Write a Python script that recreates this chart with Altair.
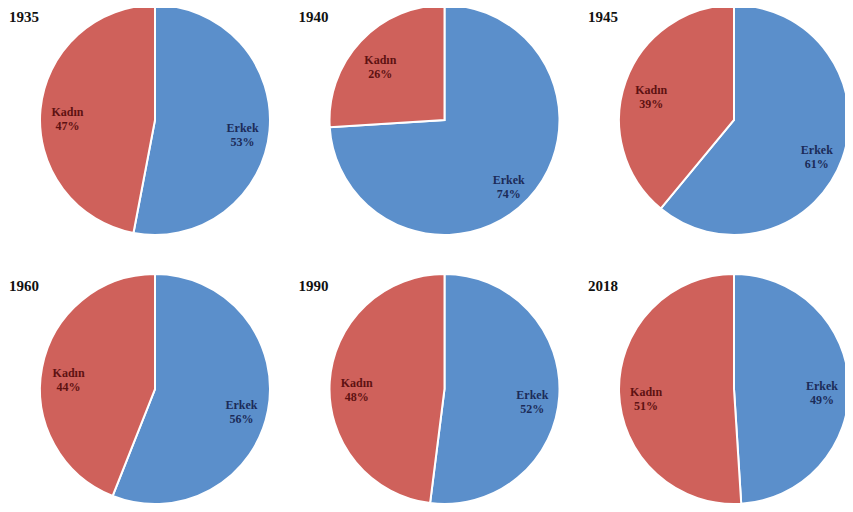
import altair as alt
import pandas as pd

years = ["1935", "1940", "1945", "1960", "1990", "2018"]
erkek = [53, 74, 61, 56, 52, 49]
kadin = [47, 26, 39, 44, 48, 51]
genders = ["Erkek", "Kadın"]

BLUE = "#5b8fcb"
RED = "#cf615b"
NAVY = "#1b2b58"
DARKRED = "#5e1212"

rows = []
titles = []
for i, y in enumerate(years):
    col, row = i % 3, i // 3
    titles.append({"year": y, "col": col, "row": row})
    for k, (g, v) in enumerate(zip(genders, [erkek[i], kadin[i]])):
        rows.append({"year": y, "col": col, "row": row, "gender": g,
                     "value": v, "order": k, "label": f"{g}\n{v}%"})
df = pd.DataFrame(rows)
tdf = pd.DataFrame(titles)

xs = alt.X("col:Q", scale=alt.Scale(domain=[0, 2], range=[147, 726]), axis=None)
ys = alt.Y("row:Q", scale=alt.Scale(domain=[0, 1], range=[112, 381]), axis=None)
theta_scale = alt.Scale(domain=[0, 100])

base = alt.Chart(df).transform_stack(
    stack="value", groupby=["year"], as_=["start", "end"],
    sort=[alt.SortField("order", order="ascending")]
).transform_calculate(mid="(datum.start + datum.end) / 2")

arcs = base.mark_arc(radius=115, stroke="white", strokeWidth=2).encode(
    x=xs, y=ys,
    theta=alt.Theta("start:Q", scale=theta_scale),
    theta2="end:Q",
    color=alt.Color("gender:N", scale=alt.Scale(domain=genders, range=[BLUE, RED]), legend=None),
)

labels = base.mark_text(radius=88, lineBreak="\n", lineHeight=14, font="Liberation Serif",
                        fontWeight="bold", fontSize=12, align="center", baseline="middle").encode(
    x=xs, y=ys,
    theta=alt.Theta("mid:Q", scale=theta_scale),
    text="label:N",
    color=alt.condition("datum.gender === 'Erkek'", alt.value(NAVY), alt.value(DARKRED)),
)

year_titles = alt.Chart(tdf).mark_text(
    dx=-146, dy=-110, align="left", baseline="top", font="Liberation Serif",
    fontWeight="bold", fontSize=15, color="#111111"
).encode(x=xs, y=ys, text="year:N")

chart = alt.layer(arcs, labels, year_titles).properties(
    width=837, height=496, padding=0, background="white",
    autosize=alt.AutoSizeParams(type="none")
).configure_view(stroke=None)

chart.save("out.html", embed_options={"renderer": "svg", "actions": False})
